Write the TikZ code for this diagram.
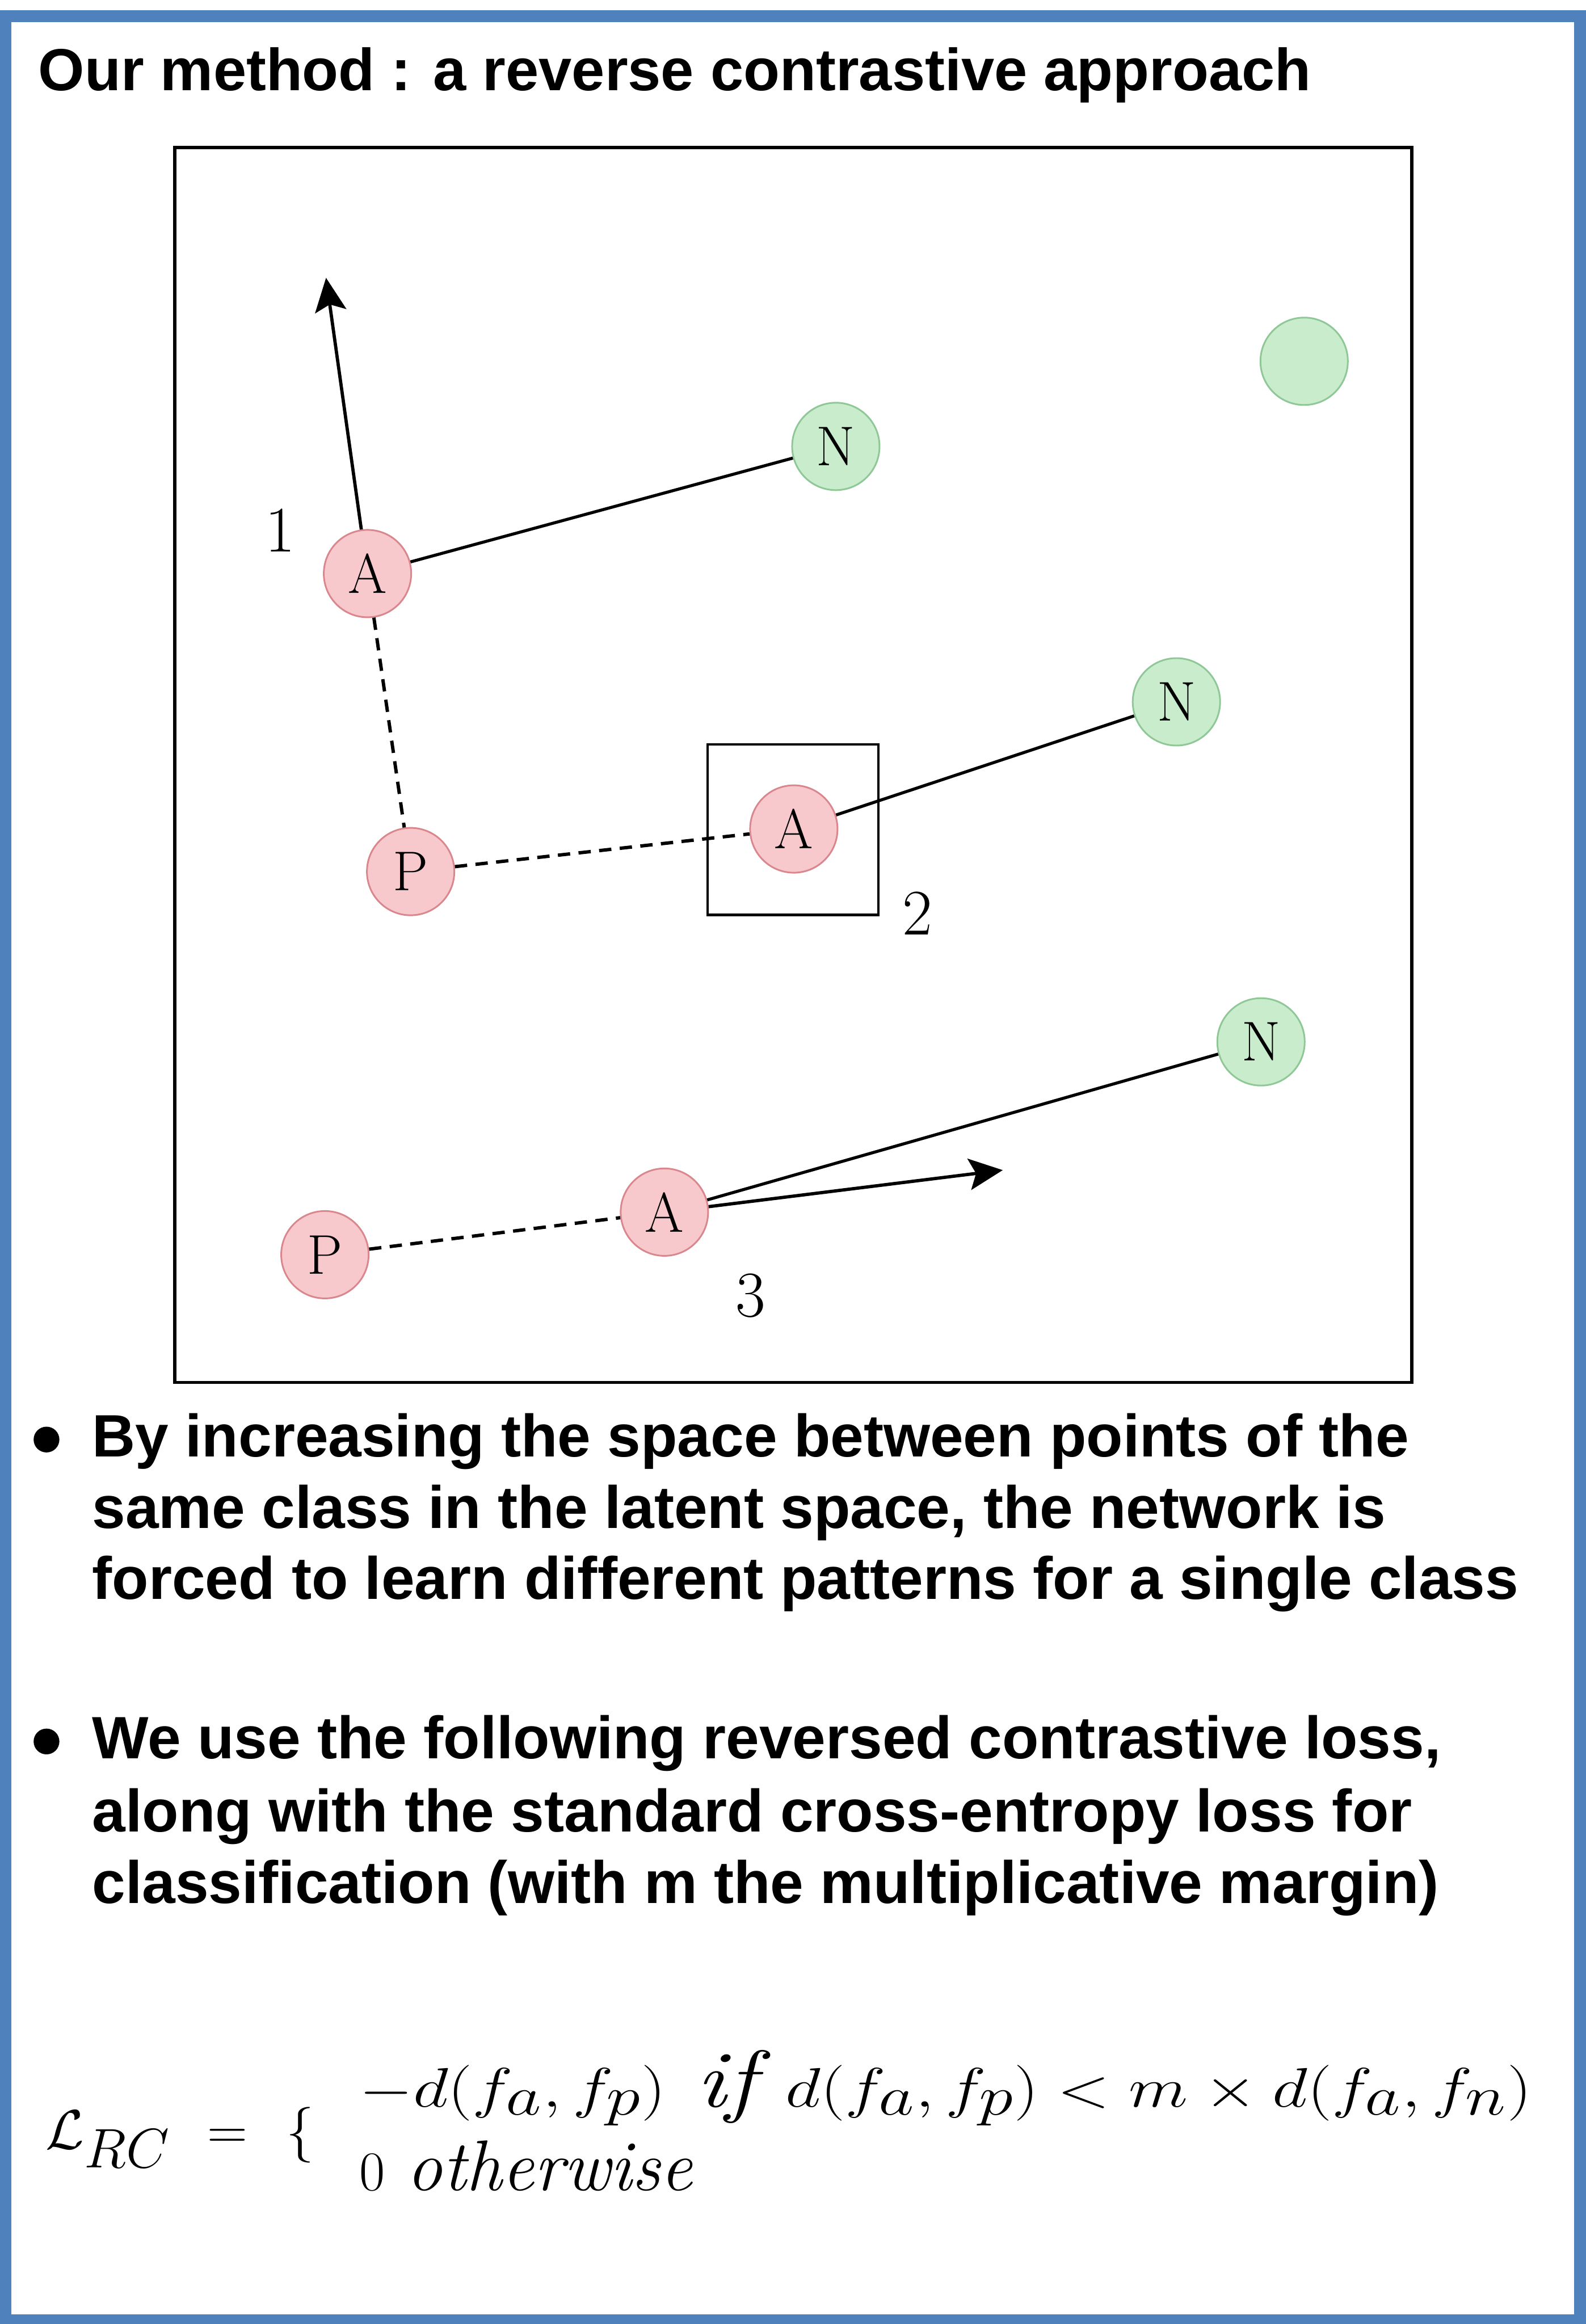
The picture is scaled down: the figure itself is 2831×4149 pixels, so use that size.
\documentclass[tikz,border=0pt]{standalone}
\usepackage{graphicx}
\usepackage{fontspec}
\setsansfont{Liberation Sans}
\usetikzlibrary{arrows.meta}
\definecolor{frameblue}{HTML}{4F81BD}
\definecolor{pinkfill}{HTML}{F8C9CC}
\definecolor{pinkdraw}{HTML}{D9868D}
\definecolor{greenfill}{HTML}{C9EDCC}
\definecolor{greendraw}{HTML}{8FC796}
\tikzset{
  pt/.style={circle, minimum size=39pt, inner sep=0pt, line width=0.75pt, font=\fontsize{25}{30}\selectfont},
  anc/.style={pt, fill=pinkfill, draw=pinkdraw},
  neg/.style={pt, fill=greenfill, draw=greendraw},
  numlbl/.style={inner sep=0pt, font=\fontsize{29}{34}\selectfont},
  conn/.style={line width=1.35pt},
  dashconn/.style={line width=1.5pt, dash pattern=on 5.5pt off 3.75pt},
  arr/.style={line width=1.45pt, -{Stealth[length=15pt,width=14pt,inset=3pt]}},
  titletext/.style={anchor=base west, inner sep=0pt, font=\sffamily\bfseries\fontsize{26.5}{32}\selectfont},
  sftext/.style={anchor=base west, inner sep=0pt, font=\sffamily\bfseries\fontsize{26.7}{32}\selectfont},
  mathtext/.style={anchor=base west, inner sep=0pt, font=\fontsize{32}{38}\selectfont},
  bigmath/.style={anchor=base west, inner sep=0pt, font=\fontsize{36}{42}\selectfont},
  bulletdot/.style={circle, fill=black, inner sep=0pt, minimum size=11.5pt}
}
\begin{document}
\begin{tikzpicture}[x=0.25pt, y=-0.25pt]
\useasboundingbox (0,0) rectangle (2831,4149);
\fill[white] (0,0) rectangle (2831,4149);
% outer frame
\draw[frameblue, line width=5.5pt] (9,29) rectangle (2821,4143);
% title
\node[titletext] (title) at (68,162) {Our method : a reverse contrastive approach};
% plot box
\draw[line width=1.5pt] (312,263) rectangle (2520,2468);
% points
\node[anc] (A1) at (656,1024) {A};
\node[neg] (N1) at (1492,797) {N};
\node[neg] (G) at (2328,645) {};
\node[neg] (N2) at (2100,1253) {N};
\node[anc] (A2) at (1417,1480) {A};
\node[anc] (P1) at (733,1556) {P};
\node[neg] (N3) at (2251,1860) {N};
\node[anc] (A3) at (1186,2164) {A};
\node[anc] (P2) at (580,2240) {P};
% highlight square
\draw[line width=1.2pt] (1263,1329) rectangle (1568,1633);
% labels
\node[numlbl] (l1) at (500,947) {1};
\node[numlbl] (l2) at (1638,1630) {2};
\node[numlbl] (l3) at (1340,2313) {3};
% arrow tips
\coordinate (t1) at (582,496);
\coordinate (t3) at (1790,2089);
% connectors
\draw[conn] (A1) -- (N1);
\draw[conn] (A2) -- (N2);
\draw[conn] (A3) -- (N3);
\draw[dashconn] (A1) -- (P1);
\draw[dashconn] (P1) -- (A2);
\draw[dashconn] (P2) -- (A3);
\draw[arr] (A1) -- (t1);
\draw[arr] (A3) -- (t3);
% bullets
\node[bulletdot] (d1) at (83,2570) {};
\node[sftext] (b1a) at (164,2601) {By increasing the space between points of the};
\node[sftext] (b1b) at (164,2728) {same class in the latent space, the network is};
\node[sftext] (b1c) at (164,2855) {forced to learn different patterns for a single class};
\node[bulletdot] (d2) at (83,3109) {};
\node[sftext] (b2a) at (164,3140) {We use the following reversed contrastive loss,};
\node[sftext] (b2b) at (164,3270) {along with the standard cross-entropy loss for};
\node[sftext] (b2c) at (164,3398) {classification (with m the multiplicative margin)};
% formula
\node[bigmath] (lhsL) at (81,3836) {$\mathcal{L}_{RC}$};
\node[mathtext] (lhsEq) at (369,3836) {$=$};
\node[mathtext] (lhsBr) at (510,3836) {$\{$};
\node[bigmath] (f1) at (641,3761) {\scalebox{1.236}[1]{$-d(f_a, f_p)\ \mathit{if}\ d(f_a, f_p) < m \times d(f_a, f_n)$}};
\node[mathtext] (f2) at (641,3910) {$0\ \mathit{otherwise}$};
\end{tikzpicture}
\end{document}
